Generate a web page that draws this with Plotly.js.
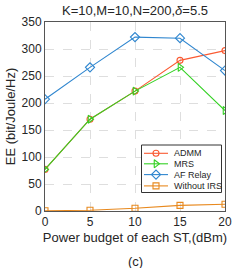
<!DOCTYPE html>
<html><head><meta charset="utf-8">
<script src="https://cdn.plot.ly/plotly-3.0.1.min.js"></script>
<style>html,body{margin:0;padding:0;background:#fff;}#c{width:249px;height:268px;}</style>
</head><body><div id="c"></div>
<script>
const xVals = [0, 5, 10, 15, 20];
const admm = [77, 170, 222, 279, 297];
const mrs = [77, 170, 222, 266, 186];
const afRelay = [207, 266, 322, 320, 260];
const withoutIRS = [0.5, 1.5, 5, 10.5, 12.5];
const seriesNames = ['ADMM', 'MRS', 'AF Relay', 'Without IRS'];
const xTicks = [0, 5, 10, 15, 20];
const yTicks = [0, 50, 100, 150, 200, 250, 300, 350];

const colors = ['#fa5a32', '#34d124', '#2f86cf', '#e8891e'];
const symbols = ['circle-open', 'triangle-right-open', 'diamond-open', 'square-open'];
const msize = [6, 7, 7, 6];
const series = [admm, mrs, afRelay, withoutIRS];

const font = {family: 'Liberation Sans, Arial, sans-serif', color: '#262626'};
const data = series.map((y, i) => ({
  x: xVals, y: y, name: seriesNames[i], type: 'scatter', mode: 'lines+markers', showlegend: false,
  line: {color: colors[i], width: 1.1},
  marker: {symbol: symbols[i], size: msize[i], color: colors[i], line: {width: 1.1}}
}));

// custom compact legend drawn on an overlay axis in pixel-like units of the plot area
const legBox = {x0: 96.5, x1: 176.5, y0: 18.5, y1: 66};
const legRowY = [57.7, 47.2, 36.4, 25.1];
const legLine = [99, 123];
const legText = 126.5;
const legMid = (legLine[0] + legLine[1]) / 2;
data.push({x: [legBox.x0, legBox.x1, legBox.x1, legBox.x0, legBox.x0], y: [legBox.y0, legBox.y0, legBox.y1, legBox.y1, legBox.y0],
  xaxis: 'x2', yaxis: 'y2', type: 'scatter', mode: 'lines', fill: 'toself', fillcolor: '#fff',
  line: {color: '#333', width: 1}, showlegend: false, hoverinfo: 'skip'});
legRowY.forEach((y, i) => {
  data.push({x: [legLine[0], legMid, legLine[1]], y: [y, y, y], xaxis: 'x2', yaxis: 'y2', type: 'scatter', mode: 'lines+markers',
    line: {color: colors[i], width: 1.1}, showlegend: false, hoverinfo: 'skip',
    marker: {symbol: symbols[i], size: msize[i], color: colors[i], line: {width: 1.1}, opacity: [0, 1, 0]}});
});
const annotations = legRowY.map((y, i) => ({text: seriesNames[i], xref: 'x2', yref: 'y2', x: legText, y: y,
  xanchor: 'left', yanchor: 'middle', showarrow: false, font: Object.assign({size: 9}, font)}));
annotations.push({text: '(c)', xref: 'paper', yref: 'paper', x: 0.5, y: -0.265, xanchor: 'center', yanchor: 'middle',
  showarrow: false, font: Object.assign({size: 13}, font)});

const layout = {
  width: 249, height: 268,
  margin: {l: 45, r: 24, t: 22, b: 57},
  paper_bgcolor: '#fff', plot_bgcolor: '#fff',
  font: Object.assign({size: 12}, font),
  showlegend: false,
  title: {text: 'K=10,M=10,N=200,<i>δ</i>=5.5', font: Object.assign({size: 13}, font), xref: 'paper', x: 0.5, xanchor: 'center', y: 0.962, yanchor: 'middle'},
  xaxis: {range: [0, 20], tickvals: xTicks, ticks: '', showline: true, mirror: true, linecolor: '#555', linewidth: 1,
    showgrid: true, gridcolor: '#dedede', griddash: 'dash', gridwidth: 1, zeroline: false,
    tickfont: Object.assign({size: 12}, font),
    title: {text: 'Power budget of each ST,(dBm)', font: Object.assign({size: 13}, font), standoff: 4}},
  yaxis: {range: [0, 350], tickvals: yTicks, ticks: '', showline: true, mirror: true, linecolor: '#555', linewidth: 1,
    showgrid: true, gridcolor: '#dedede', griddash: 'dash', gridwidth: 1, zeroline: false,
    tickfont: Object.assign({size: 12}, font),
    title: {text: 'EE (bit/Joule/Hz)', font: Object.assign({size: 13}, font), standoff: 3}},
  xaxis2: {overlaying: 'x', range: [0, 180], visible: false, fixedrange: true},
  yaxis2: {overlaying: 'y', range: [0, 189], visible: false, fixedrange: true},
  annotations: annotations
};
Plotly.newPlot('c', data, layout, {staticPlot: true, displayModeBar: false});
</script></body></html>
